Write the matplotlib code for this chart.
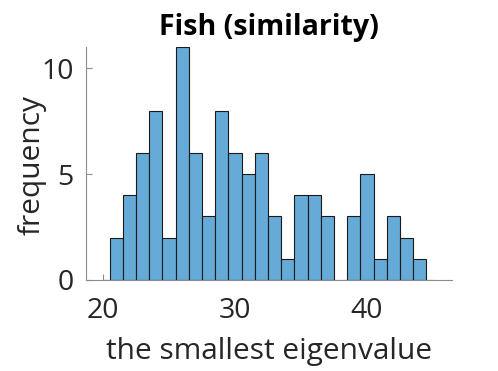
import matplotlib
matplotlib.use("Agg")
import matplotlib.pyplot as plt

plt.rcParams['font.family'] = ['Open Sans', 'DejaVu Sans']

bin_edges = [20.0, 20.5, 21.5, 22.5, 23.5, 24.5, 25.5, 26.5, 27.5, 28.5, 29.5,
             30.5, 31.5, 32.5, 33.5, 34.5, 35.5, 36.5, 37.5, 38.5, 39.5,
             40.5, 41.5, 42.5, 43.5, 44.5, 45.0]
counts = [0, 2, 4, 6, 8, 2, 11, 6, 3, 8, 6, 5, 6, 3, 1, 4, 4, 3, 0, 3, 5, 1, 3, 2, 1, 0]
xticks = [20, 30, 40]
yticks = [0, 5, 10]

fig = plt.figure(figsize=(4.98, 3.71), dpi=100)
ax = fig.add_axes([86/498, 1 - 280/371, (452-86)/498, (280-47)/371])

lefts = bin_edges[:-1]
widths = [b - a for a, b in zip(bin_edges[:-1], bin_edges[1:])]
ax.bar(lefts, counts, width=widths, align='edge', color='#66aad7',
       edgecolor='#1a1a1a', linewidth=0.8, zorder=2)

ax.set_xlim(18.7, 46.45)
ax.set_ylim(0, 11)
ax.set_xticks(xticks)
ax.set_yticks(yticks)

for s in ['top', 'right']:
    ax.spines[s].set_visible(False)
for s in ['left', 'bottom']:
    ax.spines[s].set_color('#8c8c8c')
    ax.spines[s].set_linewidth(0.8)

ax.tick_params(direction='in', length=4, width=0.8, color='#8c8c8c',
               labelsize=20.5, labelcolor='#262626')
ax.tick_params(axis='x', pad=12)
ax.tick_params(axis='y', pad=9)

ax.set_xlabel('the smallest eigenvalue', fontsize=21.5, color='#262626')
ax.xaxis.set_label_coords(0.5, -0.245)
ax.set_ylabel('frequency', fontsize=21.5, color='#262626')
ax.yaxis.set_label_coords(-0.107, 0.495)
ax.set_title('Fish (similarity)', fontsize=20.5, fontweight='bold', color='black', pad=9)

fig.savefig('out.png', dpi=100)
